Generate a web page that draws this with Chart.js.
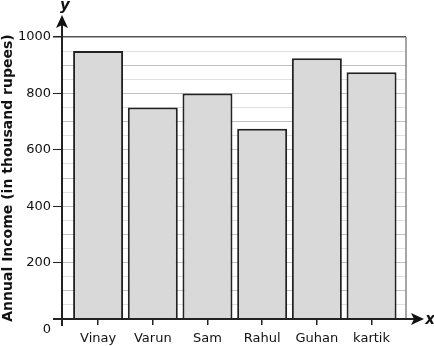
<!DOCTYPE html>
<html>
<head>
<meta charset="utf-8">
<script src="https://cdn.jsdelivr.net/npm/chart.js@4"></script>
<style>
  html, body { margin: 0; padding: 0; background: #fff; }
  #wrap { width: 434px; height: 346px; }
</style>
</head>
<body>
<div id="wrap"><canvas id="incomeChart" width="434" height="346"></canvas></div>
<script>
const names = ['Vinay', 'Varun', 'Sam', 'Rahul', 'Guhan', 'kartik'];
const income = [950, 750, 800, 675, 925, 875];
const yTicks = [0, 200, 400, 600, 800, 1000];

const FONT = 'DejaVu Sans, Verdana, sans-serif';

// axis arrows, right frame and axis letters
const axisDeco = {
    id: 'axisDeco',
    afterDraw(chart) {
        const c = chart.ctx;
        const a = chart.chartArea;
        c.save();
        c.strokeStyle = '#888';
        c.lineWidth = 1.5;
        c.beginPath();
        c.moveTo(a.right, a.top);
        c.lineTo(a.right, a.bottom);
        c.stroke();

        c.strokeStyle = '#222';
        c.fillStyle = '#111';
        c.lineWidth = 2;
        c.beginPath();
        c.moveTo(a.left, 326);
        c.lineTo(a.left, 24);
        c.moveTo(53, a.bottom);
        c.lineTo(415, a.bottom);
        c.stroke();

        c.beginPath();
        c.moveTo(a.left, 15);
        c.lineTo(a.left - 6, 28);
        c.lineTo(a.left, 25);
        c.lineTo(a.left + 6, 28);
        c.closePath();
        c.fill();

        c.beginPath();
        c.moveTo(424, a.bottom);
        c.lineTo(411, a.bottom - 6);
        c.lineTo(414, a.bottom);
        c.lineTo(411, a.bottom + 6);
        c.closePath();
        c.fill();

        c.font = 'italic bold 15px ' + FONT;
        c.textBaseline = 'middle';
        c.textAlign = 'center';
        c.fillText('y', 65, 6);
        c.fillText('x', 430, a.bottom + 1);
        c.restore();
    }
};

new Chart(document.getElementById('incomeChart').getContext('2d'), {
    type: 'bar',
    data: {
        datasets: [{
            data: income.map((v, i) => ({ x: i, y: v })),
            backgroundColor: '#d9d9d9',
            borderColor: '#222',
            borderWidth: 2,
            barPercentage: 0.914,
            categoryPercentage: 1
        }]
    },
    plugins: [axisDeco],
    options: {
        responsive: false,
        animation: false,
        layout: { padding: { top: 37, right: 28, left: 0, bottom: 0 } },
        plugins: { legend: { display: false }, tooltip: { enabled: false } },
        scales: {
            x: {
                type: 'linear',
                offset: false,
                min: -0.66,
                max: 5.63,
                afterBuildTicks: (s) => { s.ticks = names.map((n, i) => ({ value: i })); },
                afterFit: (s) => { s.height = 27; },
                grid: { offset: false, drawOnChartArea: false, tickLength: 6, tickColor: '#222', lineWidth: 1.5 },
                border: { display: true, color: '#222', width: 2 },
                ticks: {
                    autoSkip: false,
                    maxRotation: 0,
                    padding: 6,
                    color: '#111',
                    font: { family: FONT, size: 13 },
                    callback: (v) => names[v] ?? ''
                }
            },
            y: {
                min: 0,
                max: 1000,
                afterFit: (s) => { s.width = 62; },
                title: {
                    display: true,
                    text: 'Annual Income (in thousand rupees)',
                    color: '#111',
                    font: { family: FONT, size: 14, weight: 'bold' },
                    padding: { top: 0, bottom: 0 }
                },
                grid: {
                    tickLength: 9,
                    color: (ctx) => ctx.tick.value === 1000 ? '#555' : (ctx.tick.value % 100 === 0 ? '#c0c0c0' : '#e0e0e0'),
                    tickColor: (ctx) => yTicks.includes(ctx.tick.value) ? '#222' : 'rgba(0,0,0,0)',
                    lineWidth: (ctx) => ctx.tick.value === 1000 ? 1.5 : 1
                },
                border: { display: true, color: '#222', width: 2 },
                ticks: {
                    stepSize: 50,
                    autoSkip: false,
                    padding: 2,
                    color: '#111',
                    font: { family: FONT, size: 13, lineHeight: 1.6 },
                    callback: (v) => yTicks.includes(v) ? (v === 0 ? ['', '0'] : String(v)) : ''
                }
            }
        }
    }
});
</script>
</body>
</html>
